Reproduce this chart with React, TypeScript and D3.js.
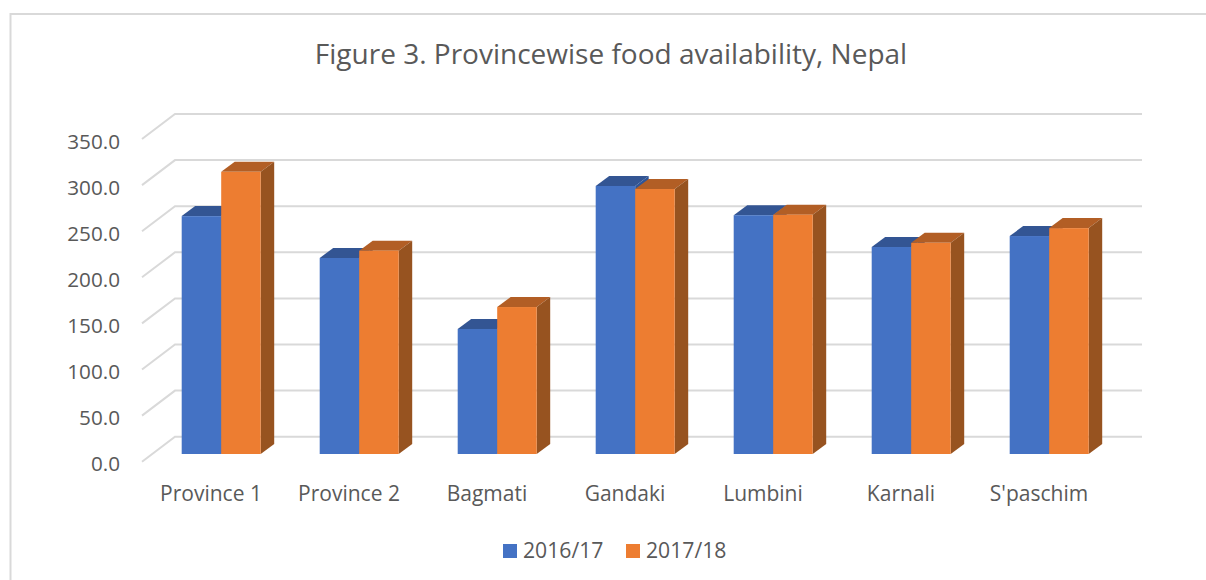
import React from "react";
import * as d3 from "d3";

const categories = ["Province 1", "Province 2", "Bagmati", "Gandaki", "Lumbini", "Karnali", "S'paschim"];
const series2016 = [258, 212.6, 135.6, 290.7, 259, 224.5, 236.4];
const series2017 = [306, 220.5, 159.4, 287.4, 259.5, 229, 245];
const seriesNames = ["2016/17", "2017/18"];
const yTicks = [0, 50, 100, 150, 200, 250, 300, 350];

const W = 1206, H = 580;
const FONT = "'Open Sans', 'Noto Sans', sans-serif";
const TXT = "#595959";
const GRID = "#D9D9D9";
const DX = 33, DY = 25;
const BAR_DX = 13.5, BAR_DY = 10;

const palette = [
  { front: "#4472C4", top: "#335593", side: "#2F5597" },
  { front: "#ED7D31", top: "#B25E25", side: "#975320" },
];

export default function App() {
  const yBack = d3.scaleLinear().domain([0, 350]).range([436.7, 114]);
  const yBar = d3.scaleLinear().domain([0, 350]).range([454, 131.3]);
  const x = d3.scaleBand<string>().domain(categories).range([112.5, 1078.5]).paddingInner(0).paddingOuter(0);
  const inner = d3.scaleBand<string>().domain(seriesNames).range([69.2, 148.2]);

  const bars = categories.flatMap((c, i) => [
    { c, s: 0, v: series2016[i] },
    { c, s: 1, v: series2017[i] },
  ]);

  return (
    <svg width={W} height={H} style={{ position: "absolute", left: 0, top: 0, background: "#fff" }} fontFamily={FONT}>
      <path d={`M10.5 ${H} V14 H${W}`} fill="none" stroke={GRID} strokeWidth={2} />
      <text x={611} y={64} textAnchor="middle" fontSize={28} fill={TXT}>Figure 3. Provincewise food availability, Nepal</text>

      {yTicks.map((t) => (
        <g key={t}>
          <polyline
            points={`142,${yBack(t) + DY} ${142 + DX},${yBack(t)} 1142,${yBack(t)}`}
            fill="none"
            stroke={GRID}
            strokeWidth={2}
          />
          <text x={120} y={yBack(t) + DY + 9.5} textAnchor="end" fontSize={20.7} fill={TXT}>{t.toFixed(1)}</text>
        </g>
      ))}

      {bars.map(({ c, s, v }) => {
        const x0 = x(c)! + inner(seriesNames[s])!;
        const bw = inner.bandwidth();
        const y1 = yBar(v);
        const y0 = yBar(0);
        const col = palette[s];
        return (
          <g key={c + s}>
            <polygon
              points={`${x0},${y1} ${x0 + BAR_DX},${y1 - BAR_DY} ${x0 + bw + BAR_DX},${y1 - BAR_DY} ${x0 + bw},${y1}`}
              fill={col.top}
            />
            <polygon
              points={`${x0 + bw},${y1} ${x0 + bw + BAR_DX},${y1 - BAR_DY} ${x0 + bw + BAR_DX},${y0 - BAR_DY} ${x0 + bw},${y0}`}
              fill={col.side}
            />
            <rect x={x0} y={y1} width={bw} height={y0 - y1} fill={col.front} />
          </g>
        );
      })}

      {categories.map((c) => (
        <text key={c} x={x(c)! + x.bandwidth() / 2 + 29.5} y={501} textAnchor="middle" fontSize={21} fill={TXT}>{c}</text>
      ))}

      {seriesNames.map((n, i) => (
        <g key={n}>
          <rect x={503 + i * 123} y={544} width={14} height={14} fill={palette[i].front} />
          <text x={523 + i * 123} y={558} fontSize={21.2} fill={TXT}>{n}</text>
        </g>
      ))}
    </svg>
  );
}
